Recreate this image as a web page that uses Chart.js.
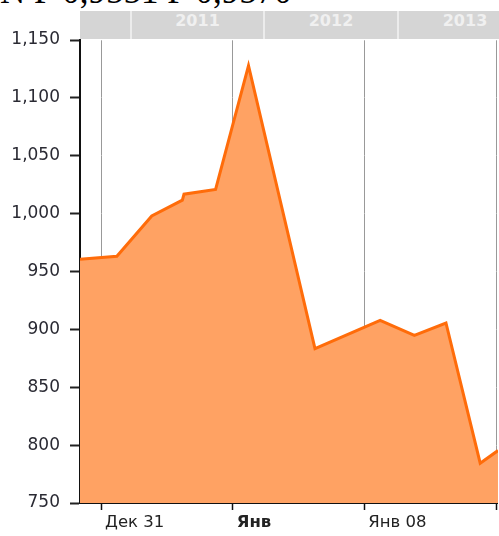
<!DOCTYPE html>
<html>
<head>
<meta charset="utf-8">
<script src="https://cdn.jsdelivr.net/npm/chart.js@4/dist/chart.umd.min.js"></script>
<style>
  html, body { margin: 0; padding: 0; background: #fff; overflow: hidden; }
  #wrap { position: relative; width: 499px; height: 536px; }
  #title { position: absolute; left: 0; top: -26px; font: 35px/35px "Liberation Serif", serif; color: #000; white-space: nowrap; }
  #band { position: absolute; left: 80px; top: 11px; width: 419px; height: 28px; background: #d5d5d5; overflow: hidden; }
  .yr { position: absolute; top: 0; height: 28px; line-height: 28px; text-align: center; font: bold 16px "DejaVu Sans", sans-serif; color: #f0f0f0; border-left: 2px solid #ececec; box-sizing: border-box; }
  canvas { position: absolute; left: 0; top: 0; }
</style>
</head>
<body>
<div id="wrap">
  <div id="title">N F 0,9551 F 0,9570</div>
  <div id="band"></div>
  <canvas id="c" width="499" height="536"></canvas>
</div>
<script>
// ---- data ----
const dayIndex = [-0.64, 0.48, 1.54, 2.47, 2.52, 3.48, 4.48, 6.5, 8.48, 9.52, 10.48, 11.52, 12.06];
const rates    = [960.6, 963.1, 998, 1011.6, 1016.8, 1020.9, 1127.8, 883.3, 907.8, 894.8, 905.5, 784.4, 795.3];
const xTickValues = [0, 4, 8, 12];
const xTickLabels = ['Дек 31', 'Янв', 'Янв 08', ''];
const yTickValues = [750, 800, 850, 900, 950, 1000, 1050, 1100, 1150];
const yearLabels = ['', '2011', '2012', '2013'];

// year navigator band
const band = document.getElementById('band');
const yearWidths = [50, 133, 134, 134];
let left = 0;
yearLabels.forEach((t, i) => {
  const d = document.createElement('div');
  d.className = 'yr';
  d.style.left = left + 'px';
  d.style.width = yearWidths[i] + 'px';
  if (i === 0) d.style.borderLeft = 'none';
  d.textContent = t;
  band.appendChild(d);
  left += yearWidths[i];
});

const points = dayIndex.map((x, i) => ({ x: x, y: rates[i] }));

new Chart(document.getElementById('c'), {
  type: 'line',
  data: {
    datasets: [{
      data: points,
      borderColor: '#ff6c0a',
      backgroundColor: '#ffa263',
      borderWidth: 3,
      fill: 'start',
      tension: 0,
      pointRadius: 0
    }]
  },
  options: {
    responsive: false,
    animation: false,
    events: [],
    layout: { padding: { top: 40, left: 0, right: 0, bottom: 0 } },
    plugins: { legend: { display: false }, tooltip: { enabled: false } },
    scales: {
      x: {
        type: 'linear',
        z: 1,
        min: dayIndex[0],
        max: dayIndex[dayIndex.length - 1],
        afterBuildTicks: s => { s.ticks = xTickValues.map(v => ({ value: v })); },
        afterFit: s => { s.height = 33; },
        border: { display: true, color: '#111', width: 2 },
        grid: { color: 'rgba(0,0,0,0.4)', lineWidth: 1, tickLength: 7, tickColor: '#111', tickWidth: 1.5 },
        ticks: {
          autoSkip: false,
          maxRotation: 0,
          align: 'start',
          labelOffset: 4,
          padding: 3,
          color: '#222',
          font: ctx => ({ family: 'DejaVu Sans', size: 16.5, weight: (ctx.tick && ctx.tick.value === 4) ? 'bold' : 'normal' }),
          callback: (v) => { const i = xTickValues.indexOf(v); return i >= 0 ? xTickLabels[i] : ''; }
        }
      },
      y: {
        z: 1,
        min: yTickValues[0],
        max: yTickValues[yTickValues.length - 1],
        afterBuildTicks: s => { s.ticks = yTickValues.map(v => ({ value: v })); },
        afterFit: s => { s.width = 80; },
        border: { display: true, color: '#111', width: 2 },
        grid: { color: 'rgba(255,255,255,0.28)', lineWidth: 1, tickLength: 10, tickColor: '#222', tickWidth: 2 },
        ticks: {
          padding: 10,
          color: '#2a2a33',
          font: { family: 'DejaVu Sans', size: 17 },
          callback: v => v.toLocaleString('en-US')
        }
      }
    }
  }
});
</script>
</body>
</html>
